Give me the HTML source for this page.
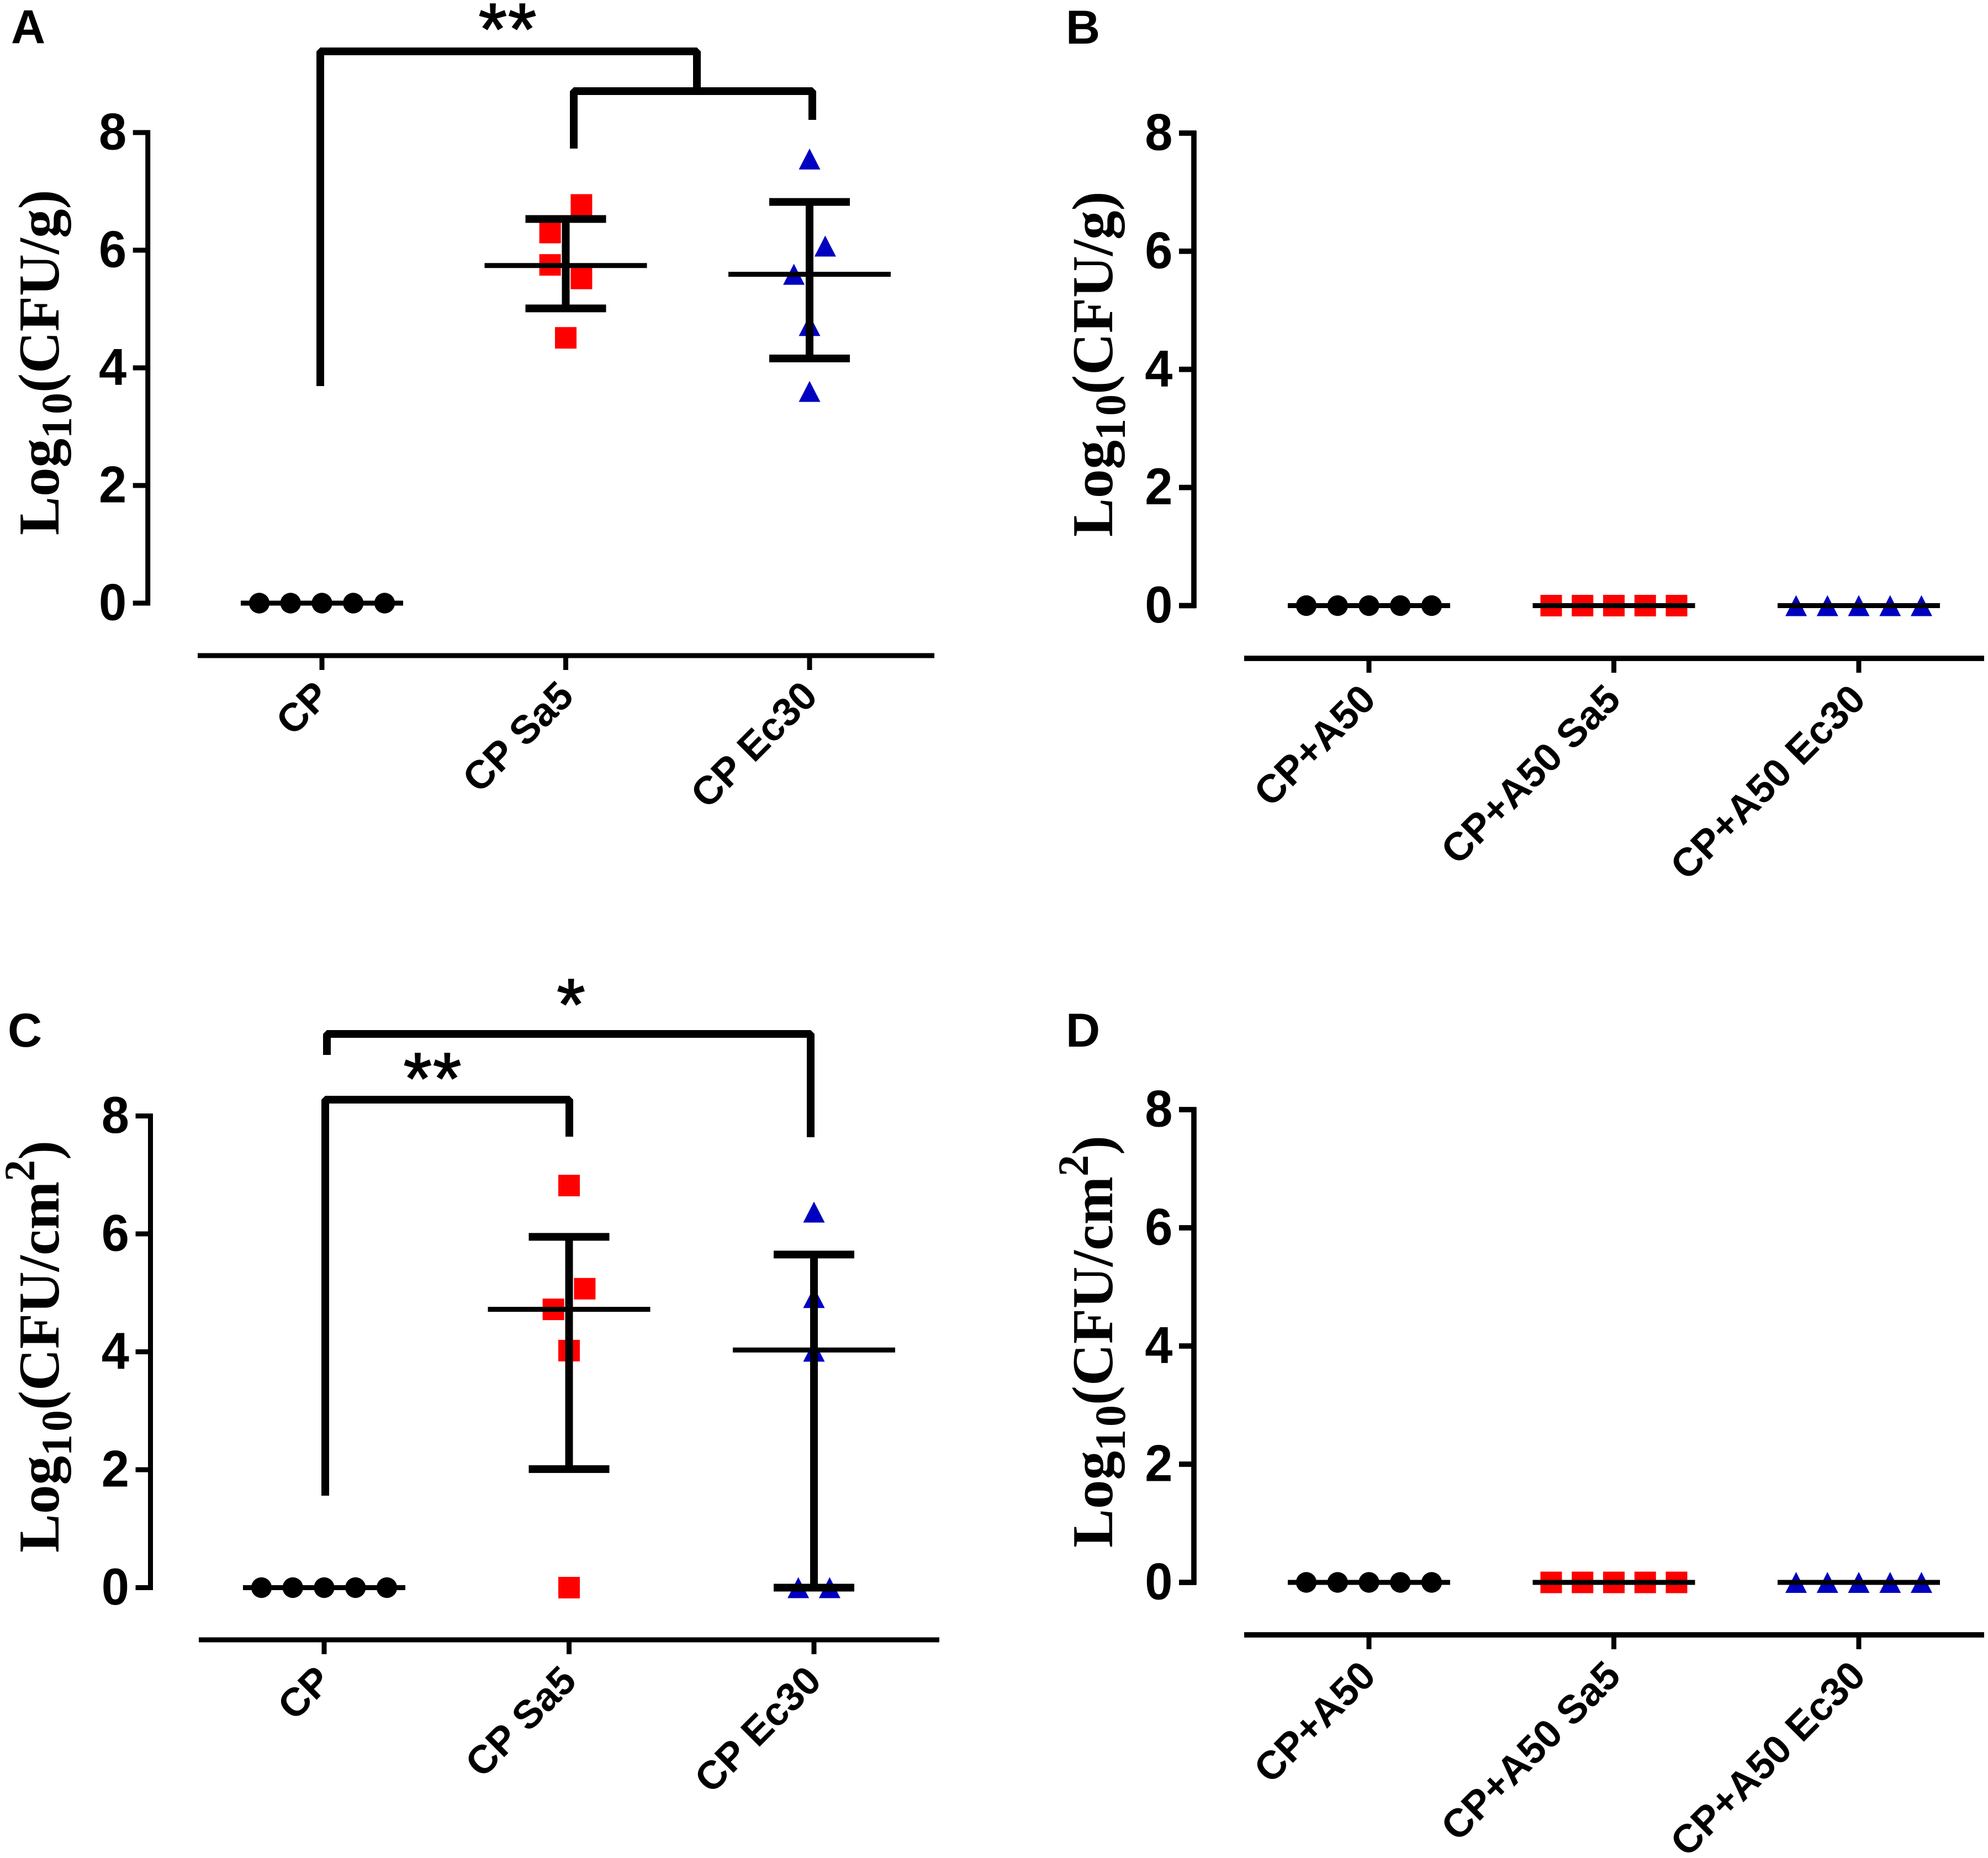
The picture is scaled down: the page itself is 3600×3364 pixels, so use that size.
<!DOCTYPE html>
<html lang="en">
<head>
<meta charset="utf-8">
<title>Log10 CFU scatter panels</title>
<style>
html,body{margin:0;padding:0;background:#fff;}
svg{display:block;}
text{fill:#000;}
.sans{font-family:"Liberation Sans",sans-serif;font-weight:bold;}
.star{font-family:"Liberation Sans",sans-serif;font-weight:normal;stroke:#000;stroke-width:2px;letter-spacing:2px;}
.serif{font-family:"Liberation Serif",serif;font-weight:bold;}
</style>
</head>
<body>
<svg id="figure" xmlns="http://www.w3.org/2000/svg" width="3600" height="3364" viewBox="0 0 3600 3364">
<rect width="3600" height="3364" fill="#fff"/>
</svg>
<script>
const yTickLabels = [0, 2, 4, 6, 8];
const leftCategories = ['CP', 'CP Sa5', 'CP Ec30'];
const rightCategories = ['CP+A50', 'CP+A50 Sa5', 'CP+A50 Ec30'];

const zeroSlots = [-2, -1, 0, 1, 2];

const aCP = [0, 0, 0, 0, 0];
const aSa5 = [6.77, 6.3, 5.75, 5.52, 4.51];
const aSa5Slots = [0.5, -0.5, -0.5, 0.5, 0];
const aEc30 = [7.55, 6.07, 5.59, 4.72, 3.6];
const aEc30Slots = [0, 0.5, -0.5, 0, 0];
const aMeans = [0, 5.74, 5.59];
const aUpper = [0, 6.53, 6.82];
const aLower = [0, 5.01, 4.16];

const bCP = [0, 0, 0, 0, 0];
const bSa5 = [0, 0, 0, 0, 0];
const bEc30 = [0, 0, 0, 0, 0];
const bMeans = [0, 0, 0];
const bUpper = [0, 0, 0];
const bLower = [0, 0, 0];

const cCP = [0, 0, 0, 0, 0];
const cSa5 = [6.82, 5.07, 4.72, 4.02, 0];
const cSa5Slots = [0, 0.5, -0.5, 0, 0];
const cEc30 = [6.37, 4.92, 4.01, 0, 0];
const cEc30Slots = [0, 0, 0, -0.5, 0.5];
const cMeans = [0, 4.72, 4.03];
const cUpper = [0, 5.95, 5.65];
const cLower = [0, 2.01, 0];

const dCP = [0, 0, 0, 0, 0];
const dSa5 = [0, 0, 0, 0, 0];
const dEc30 = [0, 0, 0, 0, 0];
const dMeans = [0, 0, 0];
const dUpper = [0, 0, 0];
const dLower = [0, 0, 0];

const NS = 'http://www.w3.org/2000/svg';
const figure = document.getElementById('figure');
const BLACK = '#000';
const RED = '#ff0000';
const BLUE = '#0000c0';

function make(tag, parent, name) {
  const el = document.createElementNS(NS, tag);
  
  
  parent.appendChild(el);
  return el;
}

function line(parent, name, x1, y1, x2, y2, w) {
  const el = make('line', parent, name);
  el.setAttribute('x1', x1);
  el.setAttribute('y1', y1);
  el.setAttribute('x2', x2);
  el.setAttribute('y2', y2);
  el.setAttribute('stroke', BLACK);
  el.setAttribute('stroke-width', w);
  return el;
}

function label(parent, name, cls, size, x, y, anchor, str) {
  const el = make('text', parent, name);
  el.setAttribute('class', cls);
  el.setAttribute('font-size', size);
  el.setAttribute('x', x);
  el.setAttribute('y', y);
  el.setAttribute('text-anchor', anchor);
  el.textContent = str;
  return el;
}

function marker(parent, shape, cx, cy, name) {
  let el;
  if (shape === 'circle') {
    el = make('circle', parent, name);
    el.setAttribute('cx', cx);
    el.setAttribute('cy', cy);
    el.setAttribute('r', 18.7);
    el.setAttribute('fill', BLACK);
  } else if (shape === 'square') {
    el = make('rect', parent, name);
    el.setAttribute('x', cx - 19.5);
    el.setAttribute('y', cy - 19.5);
    el.setAttribute('width', 39);
    el.setAttribute('height', 39);
    el.setAttribute('fill', RED);
  } else {
    el = make('polygon', parent, name);
    el.setAttribute('points', cx + ',' + (cy - 19) + ' ' + (cx - 19.5) + ',' + (cy + 19) + ' ' + (cx + 19.5) + ',' + (cy + 19));
    el.setAttribute('fill', BLUE);
  }
  return el;
}

function bracket(parent, name, xL, yLEnd, top, xR, yREnd) {
  const el = make('path', parent, name);
  el.setAttribute('d', 'M' + xL + ' ' + yLEnd + ' V' + top + ' H' + xR + ' V' + yREnd);
  el.setAttribute('fill', 'none');
  el.setAttribute('stroke', BLACK);
  el.setAttribute('stroke-width', 14);
  el.setAttribute('stroke-linejoin', 'bevel');
  return el;
}

function yTitle(parent, name, x, y, unit, squared) {
  const el = make('text', parent, name);
  el.setAttribute('class', 'serif');
  el.setAttribute('font-size', 105);
  el.setAttribute('transform', 'translate(' + x + ',' + y + ') rotate(-90)');
  const t1 = document.createElementNS(NS, 'tspan');
  t1.textContent = 'Log';
  el.appendChild(t1);
  const t2 = document.createElementNS(NS, 'tspan');
  t2.setAttribute('font-size', 78);
  t2.setAttribute('dy', 23);
  t2.setAttribute('letter-spacing', 5);
  t2.textContent = '10';
  el.appendChild(t2);
  const t3 = document.createElementNS(NS, 'tspan');
  t3.setAttribute('dy', -23);
  t3.setAttribute('dx', -5);
  t3.textContent = '(CFU/' + unit;
  el.appendChild(t3);
  if (squared) {
    const t4 = document.createElementNS(NS, 'tspan');
    t4.setAttribute('font-size', 78);
    t4.setAttribute('dy', -44);
    t4.textContent = '2';
    el.appendChild(t4);
    const t5 = document.createElementNS(NS, 'tspan');
    t5.setAttribute('dy', 44);
    t5.textContent = ')';
    el.appendChild(t5);
  } else {
    const t6 = document.createElementNS(NS, 'tspan');
    t6.textContent = ')';
    el.appendChild(t6);
  }
  return el;
}

function drawPanel(p) {
  const g = make('g', figure, 'panel-' + p.id);
  const yScale = function (v) { return p.y0 + (p.y8 - p.y0) * v / 8; };
  const xScale = function (i) { return p.x0 + p.step * i; };
  const slotWidth = 56.75;

  label(g, 'panel-label-' + p.id, 'sans', 86, p.letterX, p.letterY, 'start', p.id.toUpperCase());

  line(g, 'y-axis-line', p.axisX, yScale(8) - 4.5, p.axisX, yScale(0) + 4.5, p.axisW);
  yTickLabels.forEach(function (t) {
    line(g, 'y-tick-' + t, p.axisX - 27, yScale(t), p.axisX + 4, yScale(t), p.axisW);
    const digit = label(g, 'y-tick-label-' + t, 'sans', 94, 0, 0, 'end', String(t));
    digit.setAttribute('transform', 'translate(' + (p.axisX - 38.5) + ',' + (yScale(t) + 30.5) + ') scale(0.96,1)');
  });
  yTitle(g, 'y-axis-title', p.titleX, p.titleY, p.unit, p.squared);

  line(g, 'x-axis-line', p.xStart, p.xAxisY, p.xEnd, p.xAxisY, p.axisW);
  p.categories.forEach(function (c, i) {
    const name = c.toLowerCase().replace(/[^a-z0-9]+/g, '-');
    line(g, 'x-tick-' + name, xScale(i), p.xAxisY, xScale(i), p.xAxisY + 26, 9);
    const lx = xScale(i) + p.labelDx;
    const ly = p.xAxisY + p.labelDy;
    const txt = label(g, 'x-tick-label-' + name, 'sans', 72, 0, 0, 'end', c);
    txt.setAttribute('transform', 'translate(' + lx + ',' + ly + ') rotate(-45)');
  });

  const shapes = ['circle', 'square', 'triangle'];
  p.series.forEach(function (values, i) {
    const sg = make('g', g, 'series-' + p.categories[i].toLowerCase().replace(/[^a-z0-9]+/g, '-'));
    const slots = p.slots[i];
    const cx = xScale(i);
    values.forEach(function (v, j) {
      marker(sg, shapes[i], cx + slots[j] * slotWidth, yScale(v), 'data-point');
    });
    line(sg, 'mean-line', cx - 147, yScale(p.means[i]), cx + 147, yScale(p.means[i]), 9);
    if (p.upper[i] !== p.lower[i]) {
      line(sg, 'error-stem', cx, yScale(p.upper[i]), cx, yScale(p.lower[i]), 14);
      line(sg, 'error-cap-upper', cx - 73, yScale(p.upper[i]), cx + 73, yScale(p.upper[i]), 14);
      line(sg, 'error-cap-lower', cx - 73, yScale(p.lower[i]), cx + 73, yScale(p.lower[i]), 14);
    }
  });
}

drawPanel({
  id: 'a', y8: 240, y0: 1092, axisX: 267.7, axisW: 9, x0: 583, step: 441.5,
  xAxisY: 1187, xStart: 358, xEnd: 1692, labelDx: 18, labelDy: 77,
  letterX: 20, letterY: 78, titleX: 106, titleY: 969, unit: 'g', squared: false,
  categories: leftCategories,
  series: [aCP, aSa5, aEc30], slots: [zeroSlots, aSa5Slots, aEc30Slots],
  means: aMeans, upper: aUpper, lower: aLower
});
drawPanel({
  id: 'b', y8: 241, y0: 1096.5, axisX: 2162, axisW: 9.7, x0: 2479, step: 443.5,
  xAxisY: 1192, xStart: 2253, xEnd: 3593, labelDx: 16, labelDy: 78,
  letterX: 1930, letterY: 79, titleX: 2014, titleY: 972, unit: 'g', squared: false,
  categories: rightCategories,
  series: [bCP, bSa5, bEc30], slots: [zeroSlots, zeroSlots, zeroSlots],
  means: bMeans, upper: bUpper, lower: bLower
});
drawPanel({
  id: 'c', y8: 2020.5, y0: 2874.5, axisX: 272.5, axisW: 9, x0: 587, step: 443.5,
  xAxisY: 2969, xStart: 360, xEnd: 1701, labelDx: 17, labelDy: 78,
  letterX: 14, letterY: 1895, titleX: 106, titleY: 2811, unit: 'cm', squared: true,
  categories: leftCategories,
  series: [cCP, cSa5, cEc30], slots: [zeroSlots, cSa5Slots, cEc30Slots],
  means: cMeans, upper: cUpper, lower: cLower
});
drawPanel({
  id: 'd', y8: 2009, y0: 2865, axisX: 2162, axisW: 9.7, x0: 2479, step: 443.5,
  xAxisY: 2960, xStart: 2253, xEnd: 3593, labelDx: 16, labelDy: 78,
  letterX: 1930, letterY: 1895, titleX: 2014, titleY: 2802, unit: 'cm', squared: true,
  categories: rightCategories,
  series: [dCP, dSa5, dEc30], slots: [zeroSlots, zeroSlots, zeroSlots],
  means: dMeans, upper: dUpper, lower: dLower
});

const annotations = make('g', figure, 'significance-annotations');
bracket(annotations, 'bracket-cp-vs-sa5-ec30', 580, 699, 93, 1262, 165);
bracket(annotations, 'bracket-sa5-vs-ec30', 1039, 269, 165, 1471, 217);
label(annotations, 'significance-stars-a', 'star', 132, 920, 98, 'middle', '**');
bracket(annotations, 'bracket-cp-vs-ec30-c', 592, 1910, 1872, 1468, 2059);
bracket(annotations, 'bracket-cp-vs-sa5-c', 589, 2708, 1991, 1031, 2058);
label(annotations, 'significance-star-c-outer', 'star', 132, 1035, 1864, 'middle', '*');
label(annotations, 'significance-stars-c-inner', 'star', 132, 784, 1998, 'middle', '**');
</script>
</body>
</html>
